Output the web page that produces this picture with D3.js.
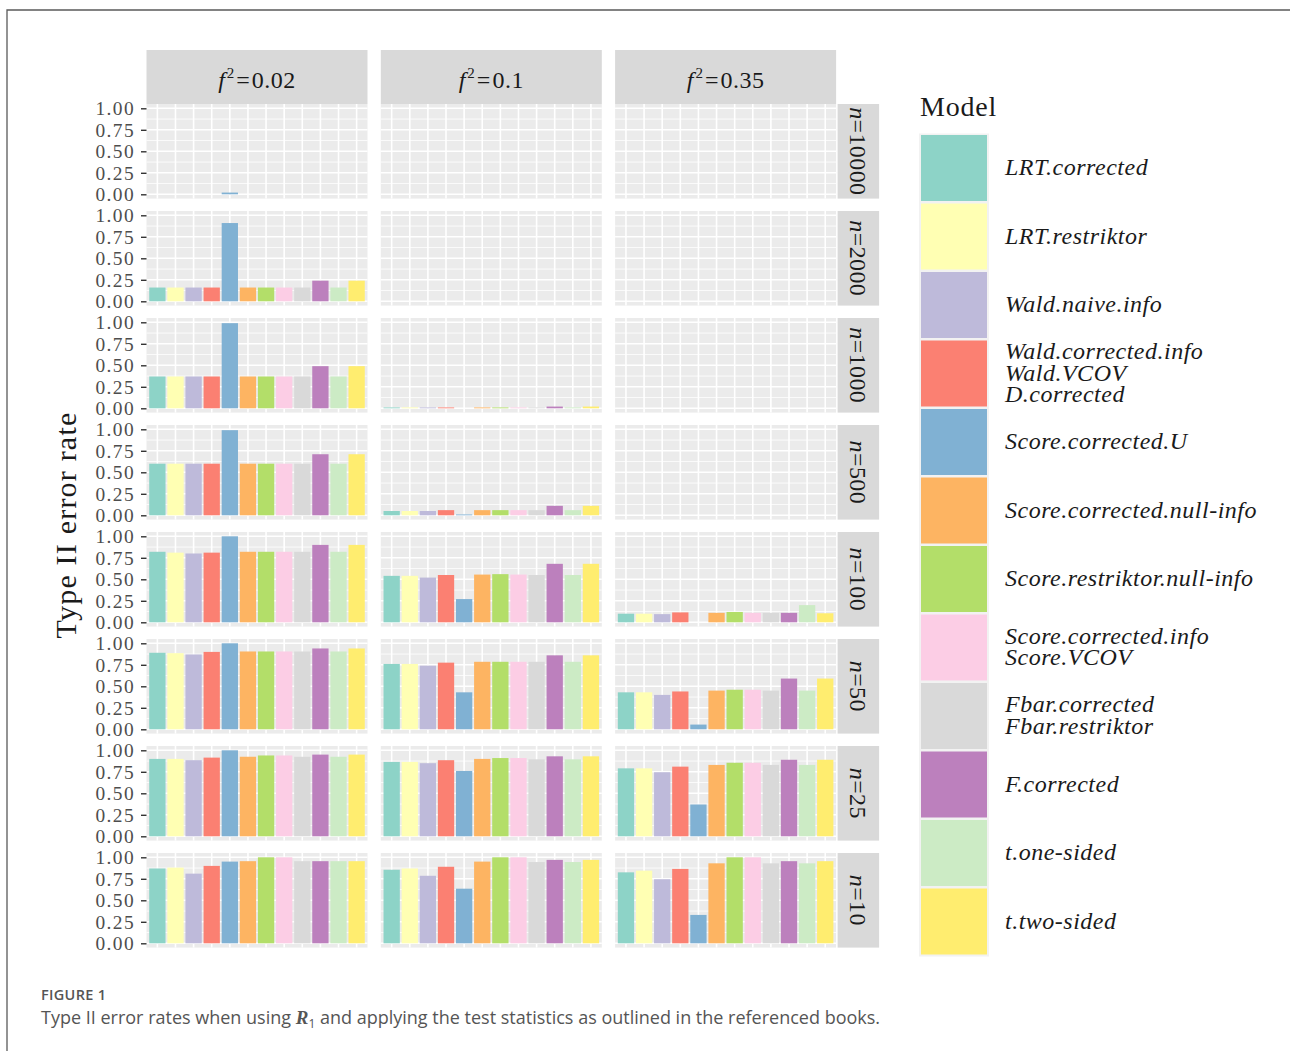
<!DOCTYPE html>
<html>
<head>
<meta charset="utf-8">
<script src="https://cdn.jsdelivr.net/npm/d3@7"></script>
<style>
  body { margin: 0; background: #fff; }
  svg { display: block; }
  .serif { font-family: "Liberation Serif", "DejaVu Serif", serif; }
  .sans { font-family: "Open Sans", "Noto Sans", sans-serif; }
</style>
</head>
<body>
<svg id="chart" width="1290" height="1051"></svg>
<script>
// models in legend / bar order
var models = [
  "LRT.corrected", "LRT.restriktor", "Wald.naive.info", "Wald.corrected.info",
  "Score.corrected.U", "Score.corrected.null-info", "Score.restriktor.null-info",
  "Score.corrected.info", "Fbar.corrected", "F.corrected", "t.one-sided", "t.two-sided"
];
var legendLabels = [
  ["LRT.corrected"], ["LRT.restriktor"], ["Wald.naive.info"],
  ["Wald.corrected.info", "Wald.VCOV", "D.corrected"],
  ["Score.corrected.U"], ["Score.corrected.null-info"], ["Score.restriktor.null-info"],
  ["Score.corrected.info", "Score.VCOV"], ["Fbar.corrected", "Fbar.restriktor"],
  ["F.corrected"], ["t.one-sided"], ["t.two-sided"]
];
var effectSizes = ["0.02", "0.1", "0.35"];
var sampleSizes = ["10000", "2000", "1000", "500", "100", "50", "25", "10"];
var yTicks = [0, 0.25, 0.5, 0.75, 1];

// type II error rate, one row per sample size (top to bottom), one value per model
var errorF002 = [
  [0, 0, 0, 0, 0.02, 0, 0, 0, 0, 0, 0, 0],
  [0.16, 0.16, 0.16, 0.16, 0.91, 0.16, 0.16, 0.16, 0.16, 0.24, 0.16, 0.24],
  [0.37, 0.37, 0.37, 0.37, 0.99, 0.37, 0.37, 0.37, 0.37, 0.49, 0.37, 0.49],
  [0.60, 0.60, 0.60, 0.60, 0.99, 0.60, 0.60, 0.60, 0.60, 0.71, 0.60, 0.71],
  [0.82, 0.81, 0.80, 0.81, 1.00, 0.82, 0.82, 0.82, 0.82, 0.90, 0.82, 0.90],
  [0.89, 0.885, 0.87, 0.90, 1.00, 0.905, 0.905, 0.905, 0.905, 0.94, 0.905, 0.94],
  [0.90, 0.90, 0.885, 0.915, 1.00, 0.925, 0.94, 0.94, 0.925, 0.95, 0.925, 0.95],
  [0.87, 0.88, 0.81, 0.90, 0.95, 0.955, 1.00, 1.00, 0.955, 0.955, 0.955, 0.955]
];
var errorF01 = [
  [0, 0, 0, 0, 0, 0, 0, 0, 0, 0, 0, 0],
  [0, 0, 0, 0, 0, 0, 0, 0, 0, 0, 0, 0],
  [0.01, 0.01, 0.01, 0.01, 0, 0.01, 0.01, 0.01, 0.01, 0.02, 0.01, 0.02],
  [0.05, 0.05, 0.05, 0.06, 0.01, 0.06, 0.06, 0.06, 0.06, 0.11, 0.06, 0.11],
  [0.54, 0.54, 0.52, 0.55, 0.27, 0.555, 0.56, 0.555, 0.55, 0.68, 0.55, 0.68],
  [0.76, 0.76, 0.74, 0.775, 0.43, 0.785, 0.785, 0.785, 0.785, 0.86, 0.785, 0.86],
  [0.865, 0.865, 0.85, 0.885, 0.76, 0.90, 0.91, 0.91, 0.895, 0.93, 0.895, 0.93],
  [0.855, 0.87, 0.785, 0.89, 0.635, 0.95, 1.00, 1.00, 0.945, 0.97, 0.945, 0.97]
];
var errorF035 = [
  [0, 0, 0, 0, 0, 0, 0, 0, 0, 0, 0, 0],
  [0, 0, 0, 0, 0, 0, 0, 0, 0, 0, 0, 0],
  [0, 0, 0, 0, 0, 0, 0, 0, 0, 0, 0, 0],
  [0, 0, 0, 0, 0, 0, 0, 0, 0, 0, 0, 0],
  [0.10, 0.10, 0.095, 0.115, 0, 0.11, 0.12, 0.11, 0.11, 0.11, 0.20, 0.105],
  [0.43, 0.43, 0.40, 0.44, 0.055, 0.45, 0.46, 0.46, 0.45, 0.59, 0.45, 0.59],
  [0.79, 0.79, 0.745, 0.81, 0.37, 0.83, 0.855, 0.855, 0.83, 0.89, 0.83, 0.89],
  [0.825, 0.845, 0.745, 0.865, 0.33, 0.93, 1.00, 1.00, 0.93, 0.955, 0.93, 0.955]
];
var errorByEffect = [errorF002, errorF01, errorF035];

var svg = d3.select("#chart");
var color = d3.scaleOrdinal().domain(models).range(d3.schemeSet3);

var panelLeft = 146.5, panelTop = 104, panelW = 221, panelH = 94.6;
var colStep = 234.3, rowStep = 107;

// discrete x like ggplot: 0.9 bar width, 0.6 expansion
var x = d3.scaleBand().domain(models).range([0, panelW]).paddingInner(0.1).paddingOuter(0.15);
var y = d3.scaleLinear().domain([-0.05, 1.05]).range([panelH, 0]);

// figure frame
svg.append("path")
  .attr("d", "M7,1051V10H1290")
  .attr("fill", "none")
  .attr("stroke", "#5a5a5a")
  .attr("stroke-width", 1.3);

var panels = [];
errorByEffect.forEach(function (rows, c) {
  rows.forEach(function (vals, r) {
    panels.push({ col: c, row: r, values: vals });
  });
});

var panel = svg.selectAll(".panel").data(panels).enter()
  .append("g")
  .attr("class", "panel")
  .attr("transform", function (d) {
    return "translate(" + (panelLeft + d.col * colStep) + "," + (panelTop + d.row * rowStep) + ")";
  });

panel.append("rect")
  .attr("width", panelW)
  .attr("height", panelH)
  .attr("fill", "#EBEBEB");

panel.selectAll(".minor").data([0.125, 0.375, 0.625, 0.875]).enter()
  .append("line")
  .attr("x1", 0).attr("x2", panelW)
  .attr("y1", function (d) { return y(d); })
  .attr("y2", function (d) { return y(d); })
  .attr("stroke", "#fff").attr("stroke-width", 0.8);

panel.selectAll(".major").data(yTicks).enter()
  .append("line")
  .attr("x1", 0).attr("x2", panelW)
  .attr("y1", function (d) { return y(d); })
  .attr("y2", function (d) { return y(d); })
  .attr("stroke", "#fff").attr("stroke-width", 1.6);

panel.selectAll(".vgrid").data(models).enter()
  .append("line")
  .attr("x1", function (d) { return x(d) + x.bandwidth() / 2; })
  .attr("x2", function (d) { return x(d) + x.bandwidth() / 2; })
  .attr("y1", 0).attr("y2", panelH)
  .attr("stroke", "#fff").attr("stroke-width", 1.6);

panel.selectAll(".bar")
  .data(function (d) {
    return d.values.map(function (v, i) { return { model: models[i], value: v }; });
  })
  .enter()
  .append("rect")
  .attr("class", "bar")
  .attr("x", function (d) { return x(d.model); })
  .attr("y", function (d) { return y(d.value); })
  .attr("width", x.bandwidth())
  .attr("height", function (d) { return y(0) - y(d.value); })
  .attr("fill", function (d) { return color(d.model); });

// y axes on the first column
panel.filter(function (d) { return d.col === 0; })
  .append("g")
  .call(d3.axisLeft(y).tickValues(yTicks).tickFormat(d3.format(".2f")).tickSize(5.5).tickPadding(6))
  .call(function (g) {
    g.select(".domain").remove();
    g.selectAll(".tick line").attr("stroke", "#333").attr("stroke-width", 1.4);
    g.selectAll(".tick text")
      .attr("class", "serif")
      .attr("font-size", 19.4)
      .attr("letter-spacing", 1.4)
      .attr("fill", "#4D4D4D");
  });

// column strips
var colStrip = svg.selectAll(".colstrip").data(effectSizes).enter()
  .append("g")
  .attr("transform", function (d, i) { return "translate(" + (panelLeft + i * colStep) + ",50)"; });
colStrip.append("rect")
  .attr("width", panelW).attr("height", 54)
  .attr("fill", "#D9D9D9");
var colText = colStrip.append("text")
  .attr("class", "serif")
  .attr("x", panelW / 2).attr("y", 38)
  .attr("text-anchor", "middle")
  .attr("font-size", 24)
  .attr("fill", "#1A1A1A");
colText.append("tspan").attr("font-style", "italic").text("f");
colText.append("tspan").attr("font-size", 15).attr("dy", -10).attr("dx", 2).text("2");
colText.append("tspan").attr("dy", 10).attr("dx", 2).text("=");
colText.append("tspan").attr("dx", 2).attr("letter-spacing", 0.5).text(function (d) { return d; });

// row strips
var stripX = panelLeft + 2 * colStep + panelW + 1.5;
var rowStrip = svg.selectAll(".rowstrip").data(sampleSizes).enter()
  .append("g")
  .attr("transform", function (d, i) { return "translate(" + stripX + "," + (panelTop + i * rowStep) + ")"; });
rowStrip.append("rect")
  .attr("width", 41.5).attr("height", panelH)
  .attr("fill", "#D9D9D9");
var rowText = rowStrip.append("text")
  .attr("class", "serif")
  .attr("transform", "translate(12," + (panelH / 2) + ") rotate(90)")
  .attr("text-anchor", "middle")
  .attr("font-size", 24)
  .attr("letter-spacing", 0.4)
  .attr("fill", "#1A1A1A");
rowText.append("tspan").attr("font-style", "italic").text("n");
rowText.append("tspan").text(function (d) { return "=" + d; });

// y title
svg.append("text")
  .attr("class", "serif")
  .attr("transform", "translate(76,525) rotate(-90)")
  .attr("text-anchor", "middle")
  .attr("font-size", 30)
  .attr("letter-spacing", 1.2)
  .attr("fill", "#1A1A1A")
  .text("Type II error rate");

// legend
var keyTop = 135, keyStep = 68.5, keySize = 66;
svg.append("text")
  .attr("class", "serif")
  .attr("x", 920).attr("y", 116)
  .attr("font-size", 28)
  .attr("letter-spacing", 0.8)
  .attr("fill", "#1A1A1A")
  .text("Model");

svg.append("rect")
  .attr("x", 919).attr("y", keyTop - 1.5)
  .attr("width", keySize + 4).attr("height", keyStep * models.length + 1)
  .attr("fill", "#F2F2F2");

var key = svg.selectAll(".key").data(models).enter()
  .append("g")
  .attr("transform", function (d, i) { return "translate(921," + (keyTop + i * keyStep) + ")"; });
key.append("rect")
  .attr("width", keySize).attr("height", keySize)
  .attr("fill", function (d) { return color(d); });
key.append("text")
  .attr("class", "serif")
  .attr("font-size", 24)
  .attr("font-style", "italic")
  .attr("letter-spacing", 0.5)
  .attr("fill", "#1A1A1A")
  .selectAll("tspan")
  .data(function (d, i) { return legendLabels[i]; })
  .enter()
  .append("tspan")
  .attr("x", 84)
  .attr("y", function (d, j, nodes) {
    return keySize / 2 + 7 - (nodes.length - 1) / 2 * 21.3 + j * 21.3;
  })
  .text(function (d) { return d; });

// caption
svg.append("text")
  .attr("class", "sans")
  .attr("x", 41).attr("y", 1000)
  .attr("font-size", 14.5)
  .attr("font-weight", 600)
  .attr("letter-spacing", 0.3)
  .attr("fill", "#555")
  .text("FIGURE 1");
var cap = svg.append("text")
  .attr("class", "sans")
  .attr("x", 41).attr("y", 1024)
  .attr("font-size", 18)
  .attr("fill", "#555");
cap.append("tspan").text("Type II error rates when using ");
cap.append("tspan").attr("class", "serif").attr("font-style", "italic").attr("font-weight", "bold").attr("font-size", 19).text("R");
cap.append("tspan").attr("font-size", 12).attr("dy", 4).text("1");
cap.append("tspan").attr("dy", -4).text(" and applying the test statistics as outlined in the referenced books.");
</script>
</body>
</html>
